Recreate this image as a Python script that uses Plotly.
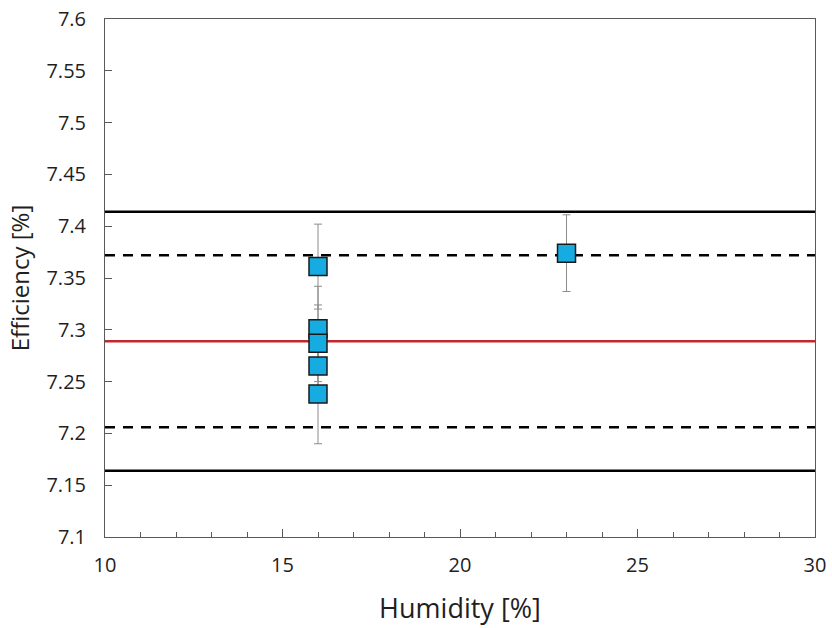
import plotly.graph_objects as go

humidity = [16, 16, 16, 16, 16, 23]
efficiency = [7.361, 7.301, 7.287, 7.265, 7.238, 7.374]
eff_err = [0.041, 0.041, 0.037, 0.020, 0.048, 0.037]

mean_line = 7.289
inner_limits = [7.372, 7.206]
outer_limits = [7.414, 7.164]
x_span = [10, 30]

fig = go.Figure()

for v in outer_limits:
    fig.add_trace(go.Scatter(x=x_span, y=[v, v], mode="lines",
                             line=dict(color="black", width=2.6), showlegend=False, hoverinfo="skip"))
for v in inner_limits:
    fig.add_trace(go.Scatter(x=x_span, y=[v, v], mode="lines",
                             line=dict(color="black", width=2.6, dash="10px,8px"), showlegend=False, hoverinfo="skip"))
fig.add_trace(go.Scatter(x=x_span, y=[mean_line, mean_line], mode="lines",
                         line=dict(color="#C0282D", width=2.5), showlegend=False, hoverinfo="skip"))

fig.add_trace(go.Scatter(
    x=humidity, y=efficiency, mode="markers",
    marker=dict(symbol="square", size=18, color="#16ACE2",
                line=dict(color="#1a1a1a", width=1.5)),
    error_y=dict(type="data", array=eff_err, visible=True, color="#8c8c8c", thickness=1, width=4),
    showlegend=False))

font_family = "Open Sans, Liberation Sans, sans-serif"

fig.update_layout(
    width=832, height=628,
    margin=dict(l=105, r=17, t=19, b=91),
    plot_bgcolor="white", paper_bgcolor="white",
    font=dict(family=font_family, color="#1f1f1f"),
    xaxis=dict(range=[10, 30], dtick=5, tick0=10, ticks="inside", ticklen=8, tickcolor="#595959",
               showline=True, linecolor="#595959", linewidth=1, mirror=True, showgrid=False, zeroline=False,
               tickfont=dict(size=20), ticklabelstandoff=10, automargin=False,
               minor=dict(dtick=1, ticks="inside", ticklen=5, tickcolor="#595959", showgrid=False),
               title=dict(text="Humidity [%]", font=dict(size=27), standoff=22)),
    yaxis=dict(range=[7.1, 7.6], dtick=0.05, tick0=7.1, ticks="inside", ticklen=7, tickcolor="#595959",
               showline=True, linecolor="#595959", linewidth=1, mirror=True, showgrid=False, zeroline=False,
               tickfont=dict(size=20), tickformat="~r", ticklabelstandoff=14, automargin=False,
               title=dict(text="Efficiency [%]", font=dict(size=24), standoff=10)),
)

fig.write_html("out.html")
